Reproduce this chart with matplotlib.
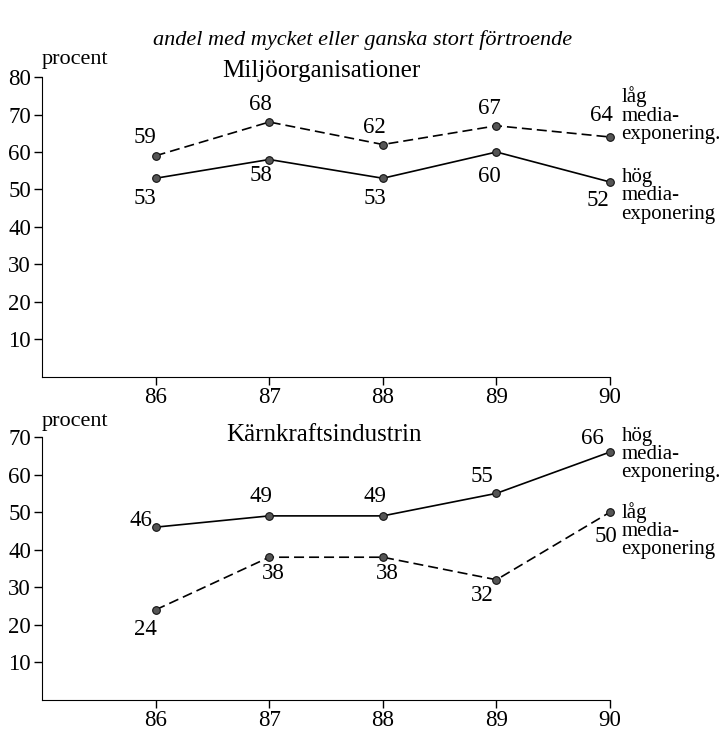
import matplotlib
matplotlib.use("Agg")
import matplotlib.pyplot as plt

years = [86, 87, 88, 89, 90]
miljo_lag = [59, 68, 62, 67, 64]
miljo_hog = [53, 58, 53, 60, 52]
karn_hog = [46, 49, 49, 55, 66]
karn_lag = [24, 38, 38, 32, 50]

plt.rcParams['font.family'] = ['Liberation Serif', 'DejaVu Serif']

fig = plt.figure(figsize=(7.26, 7.30), dpi=100)
ax1 = fig.add_axes([0.0579, 0.4836, 0.7824, 0.4109])
ax2 = fig.add_axes([0.0579, 0.0411, 0.7824, 0.3603])

fig.text(0.5, 0.945, "andel med mycket eller ganska stort förtroende",
         ha='center', va='center', style='italic', fontsize=16)

mk = dict(marker='o', markersize=5.5, markerfacecolor='#555555',
          markeredgecolor='#111111', markeredgewidth=0.8, color='black', lw=1.2)

LBL = 16.5

def style(ax, ymax):
    ax.set_xlim(85, 90)
    ax.set_ylim(0, ymax)
    ax.spines['top'].set_visible(False)
    ax.spines['right'].set_visible(False)
    ax.set_xticks(years)
    ax.set_xticklabels([str(y) for y in years])
    ax.set_yticks(range(10, ymax + 1, 10))
    ax.tick_params(axis='both', labelsize=LBL, length=6, width=1, direction='out', pad=2)
    ax.tick_params(axis='x', pad=1)

def label(ax, x, y, dx, dy, ha, va):
    ax.annotate(str(y), (x, y), xytext=(dx, dy), textcoords='offset pixels',
                ha=ha, va=va, fontsize=LBL)

# top chart
ax1.plot(years, miljo_lag, linestyle=(0, (6, 3)), clip_on=False, **mk)
ax1.plot(years, miljo_hog, linestyle='-', clip_on=False, **mk)
style(ax1, 80)
ax1.text(85.0, 83.5, "procent", fontsize=16, ha='left', va='baseline')
ax1.text(87.46, 81.5, "Miljöorganisationer", fontsize=18, ha='center', va='center')

lag_off = [(1, 8, 'right', 'bottom'), (-9, 7, 'center', 'bottom'), (-8, 7, 'center', 'bottom'),
           (-7, 7, 'center', 'bottom'), (3, 11, 'right', 'bottom')]
hog_off = [(1, -10, 'right', 'top'), (-8, -5, 'center', 'top'), (-8, -10, 'center', 'top'),
           (-7, -14, 'center', 'top'), (-1, -8, 'right', 'top')]
for x, y, o in zip(years, miljo_lag, lag_off):
    label(ax1, x, y, *o)
for x, y, o in zip(years, miljo_hog, hog_off):
    label(ax1, x, y, *o)

ax1.text(90.1, 77.5, "låg\nmedia-\nexponering.", fontsize=15, ha='left', va='top',
         linespacing=0.95)
ax1.text(90.1, 55.7, "hög\nmedia-\nexponering", fontsize=15, ha='left', va='top',
         linespacing=0.95)

# bottom chart
ax2.plot(years, karn_hog, linestyle='-', clip_on=False, **mk)
ax2.plot(years, karn_lag, linestyle=(0, (6, 3)), clip_on=False, **mk)
style(ax2, 70)
ax2.text(85.0, 72.9, "procent", fontsize=16, ha='left', va='baseline')
ax2.text(87.48, 70.5, "Kärnkraftsindustrin", fontsize=18, ha='center', va='center')

khog_off = [(-3, -4, 'right', 'bottom'), (-8, 9, 'center', 'bottom'), (-8, 9, 'center', 'bottom'),
            (-3, 6, 'right', 'bottom'), (-6, 3, 'right', 'bottom')]
klag_off = [(1, -9, 'right', 'top'), (4, -6, 'center', 'top'), (4, -6, 'center', 'top'),
            (-3, -5, 'right', 'top'), (-4, -14, 'center', 'top')]
for x, y, o in zip(years, karn_hog, khog_off):
    label(ax2, x, y, *o)
for x, y, o in zip(years, karn_lag, klag_off):
    label(ax2, x, y, *o)

ax2.text(90.1, 72.7, "hög\nmedia-\nexponering.", fontsize=15, ha='left', va='top',
         linespacing=0.95)
ax2.text(90.1, 52.8, "låg\nmedia-\nexponering", fontsize=15, ha='left', va='top',
         linespacing=0.95)

fig.savefig("out.png", dpi=100)
